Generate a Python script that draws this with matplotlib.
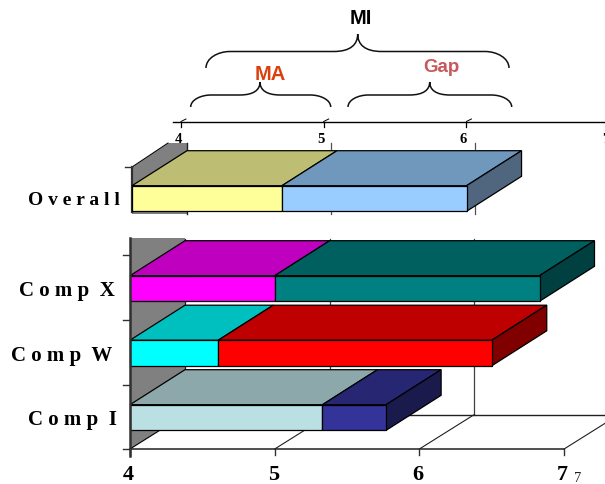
import numpy as np
import matplotlib
matplotlib.use('Agg')
import matplotlib.pyplot as plt
from matplotlib.patches import Polygon, PathPatch
from matplotlib.path import Path

W, H = 605, 485

# values
labels = ['C o m p  I', 'C o m p  W', 'C o m p  X']
split = [5.33, 4.61, 5.00]
end = [5.77, 6.50, 6.83]
overall_split = 5.04
overall_end = 6.32
xticks = [4, 5, 6, 7]

# colours: first segment (front, top, side) and second segment
seg1 = [('#BBE0E3', '#8CA8AA', '#8CA8AA'), ('#00FFFF', '#00BFBF', '#00BFBF'), ('#FF00FF', '#BF00BF', '#BF00BF')]
seg2 = [('#333399', '#262673', '#1A1A4D'), ('#FF0000', '#BF0000', '#800000'), ('#008080', '#006060', '#004040')]
overall1 = ('#FFFF99', '#BDBD73', '#BDBD73')
overall2 = ('#99CCFF', '#7098BC', '#50667F')

PITCH = 64.5
DX = 55.0
DY = 35.0
BAR_H = 25.6

fig = plt.figure(figsize=(W/100, H/100), dpi=100)
fig.patch.set_facecolor('white')


def make_axes(x4, unit, y0, name):
    # full figure axes, x in value units, y in category units
    ax = fig.add_axes([0, 0, 1, 1], label=name)
    ax.set_xlim(4-x4/unit, 4+(W-x4)/unit)
    ax.set_ylim((y0-H)/PITCH, y0/PITCH)
    ax.axis('off')
    ax.patch.set_alpha(0)
    return ax


def draw_box(ax, y, a, b, cols, unit, last):
    dx = DX/unit
    dy = DY/PITCH
    h = BAR_H/PITCH/2
    kw = dict(ec='black', lw=0.9, joinstyle='miter')
    ax.add_patch(Polygon([(a, y+h), (a+dx, y+h+dy), (b+dx, y+h+dy), (b, y+h)], fc=cols[1], zorder=3, **kw))
    if last:
        ax.add_patch(Polygon([(b, y+h), (b+dx, y+h+dy), (b+dx, y-h+dy), (b, y-h)], fc=cols[2], zorder=3, **kw))
    ax.add_patch(Polygon([(a, y-h), (b, y-h), (b, y+h), (a, y+h)], fc=cols[0], zorder=4, **kw))


# lower chart
X4, UNIT, Y0 = 130, 144.7, 418.5
ax = make_axes(X4, UNIT, Y0, 'lower')
ypx = lambda p: (Y0-p)/PITCH
d = DX/UNIT
ax.add_patch(Polygon([(4, ypx(239)), (4+d, ypx(239)), (4+d, ypx(415.5)), (4, ypx(450))], fc='#808080', ec='none', zorder=1))
ax.plot([4, 4+d], [ypx(450), ypx(415.5)], color='black', lw=0.8, zorder=2)
ax.plot([4+d, 4+d], [ypx(240), ypx(415.5)], color='#202020', lw=0.9, zorder=2)
for t in xticks[1:]:
    ax.plot([t+d, t+d], [ypx(240), ypx(415.5)], color='#404040', lw=0.9, zorder=1)
    ax.plot([t, t+d], [ypx(450), ypx(415.5)], color='#202020', lw=0.8, zorder=1)
ax.plot([4+d, W], [ypx(415.5), ypx(415.5)], color='#202020', lw=1.0, zorder=1)
ax.plot([4, 7], [ypx(450), ypx(450)], color='#202020', lw=1.1, zorder=1)
ax.plot([4, 4], [ypx(239), ypx(457)], color='#303030', lw=1.8, zorder=5)
for t in xticks:
    ax.plot([t, t], [ypx(450), ypx(456)], color='#303030', lw=1.0, zorder=1)
    ax.text(t-0.01, ypx(475.5), str(t), ha='center', va='center', family='Liberation Serif', weight='bold', fontsize=16)
ax.text(7.095, ypx(479), '7', ha='center', va='center', family='Liberation Serif', fontsize=10.5, color='#222222')
for p in [256, 321, 386, 450]:
    ax.plot([4-7/UNIT, 4], [ypx(p), ypx(p)], color='#303030', lw=1.0, zorder=5)

for i in range(3):
    draw_box(ax, i, 4, split[i], seg1[i], UNIT, False)
    draw_box(ax, i, split[i], end[i], seg2[i], UNIT, True)
label_right = [117, 112, 115]
for i in range(3):
    ax.text(4+(label_right[i]-X4)/UNIT, i-0.03, labels[i], ha='right', va='center',
            family='Liberation Serif', weight='bold', fontsize=15)

# upper chart
X4b, UNITb, Y0b = 132, 144.2, 199.5
ax2 = make_axes(X4b, UNITb, Y0b, 'upper')
ypb = lambda p: (Y0b-p)/PITCH
db = DX/UNITb
ax2.add_patch(Polygon([(4, ypb(168)), (4+36/UNITb, ypb(144)), (4+db, ypb(144)), (4+db, ypb(215)), (4, ypb(215))],
                      fc='#808080', ec='none', zorder=1))
ax2.plot([4, 4+36/UNITb], [ypb(168), ypb(144)], color='black', lw=0.7, zorder=2)
for t in [5, 6]:
    ax2.plot([t+db, t+db], [ypb(144), ypb(215)], color='#505050', lw=0.9, zorder=1)
ax2.plot([4+db, 4+db], [ypb(144), ypb(215)], color='#202020', lw=1.0, zorder=1)
ax2.plot([4, 4], [ypb(168), ypb(213)], color='#303030', lw=1.6, zorder=2)
ax2.plot([4-7/UNITb, 4], [ypb(168), ypb(168)], color='#303030', lw=1.0, zorder=2)
draw_box(ax2, 0, 4, overall_split, overall1, UNITb, False)
draw_box(ax2, 0, overall_split, overall_end, overall2, UNITb, True)
ax2.text(4+(120-X4b)/UNITb, -0.01, 'O v e r a l l', ha='right', va='center',
         family='Liberation Serif', weight='bold', fontsize=14)

# top value axis
X4c, UNITc, Yc = 181, 142.7, 122.5
ax3 = make_axes(X4c, UNITc, Yc, 'top')
ax3.plot([4-8/UNITc, 4+(W-X4c)/UNITc], [0, 0], color='black', lw=1.0)
for t in xticks:
    ax3.plot([t, t], [0, -5/PITCH], color='black', lw=0.9)
    ax3.plot([t, t+5/UNITc], [0, 2.5/PITCH], color='black', lw=0.7)
    ax3.text(t-3/UNITc, -17/PITCH, str(t), ha='center', va='center', family='Liberation Serif',
             weight='bold', fontsize=10.5)


# braces and titles, in pixels
top = fig.add_axes([0, 0, 1, 1], label='notes')
top.set_xlim(0, W)
top.set_ylim(H, 0)
top.axis('off')
top.patch.set_alpha(0)


def brace(x0, x1, xm, yend, yflat, ytip):
    r = yend-yflat
    rx = min(r*1.7, 24)
    verts = [(x0, yend), (x0, yend-r*0.6), (x0+rx*0.5, yflat), (x0+rx, yflat),
             (xm-rx, yflat), (xm-rx*0.3, yflat), (xm, yflat-(yflat-ytip)*0.4), (xm, ytip),
             (xm, yflat-(yflat-ytip)*0.4), (xm+rx*0.3, yflat), (xm+rx, yflat),
             (x1-rx, yflat), (x1-rx*0.5, yflat), (x1, yend-r*0.6), (x1, yend)]
    codes = [Path.MOVETO, Path.CURVE4, Path.CURVE4, Path.CURVE4, Path.LINETO, Path.CURVE4, Path.CURVE4, Path.CURVE4,
             Path.CURVE4, Path.CURVE4, Path.CURVE4, Path.LINETO, Path.CURVE4, Path.CURVE4, Path.CURVE4]
    top.add_patch(PathPatch(Path(verts, codes), fc='none', ec='#111111', lw=1.1))


brace(206, 509, 357.7, 69, 52.5, 35)
brace(190.7, 330.7, 260, 108, 96, 83)
brace(348, 511.7, 429.7, 108, 96, 83)
top.text(361, 18.5, 'MI', ha='center', va='center', family='Liberation Sans', weight='bold', fontsize=14.5, color='black')
top.text(270, 74, 'MA', ha='center', va='center', family='Liberation Sans', weight='bold', fontsize=14.5, color='#DD3F0C')
top.text(441, 68, 'Gap', ha='center', va='center', family='Liberation Sans', weight='bold', fontsize=13.5, color='#C9585A')

fig.savefig('out.png', dpi=100)
